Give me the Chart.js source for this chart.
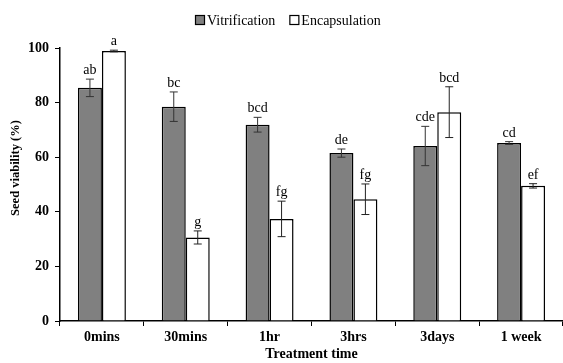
<!DOCTYPE html>
<html>
<head>
<meta charset="utf-8">
<script src="https://cdn.jsdelivr.net/npm/chart.js@4/dist/chart.umd.min.js"></script>
<style>
html,body{margin:0;padding:0;background:#fff;}
#wrap{width:563px;height:363px;}
</style>
</head>
<body>
<div id="wrap"><canvas id="c" width="563" height="363"></canvas></div>
<script>
const categories = ['0mins', '30mins', '1hr', '3hrs', '3days', '1 week'];
const vitrification = [85.4, 78.5, 71.9, 61.5, 64.1, 65.2];
const vitrificationErr = [3.2, 5.4, 2.7, 1.5, 7.2, 0.5];
const encapsulation = [98.9, 30.6, 37.4, 44.6, 76.5, 49.5];
const encapsulationErr = [0.3, 2.4, 6.5, 5.6, 9.3, 0.8];
const vitrificationLetters = ['ab', 'bc', 'bcd', 'de', 'cde', 'cd'];
const encapsulationLetters = ['a', 'g', 'fg', 'fg', 'bcd', 'ef'];
const yTicks = [0, 20, 40, 60, 80, 100];
const yTitle = 'Seed viability (%)';
const xTitle = 'Treatment time';

const SERIF = '"Liberation Serif", "Times New Roman", serif';

const errorBarPlugin = {
  id: 'errorBars',
  afterDatasetsDraw(chart) {
    const ctx = chart.ctx;
    const y = chart.scales.y;
    chart.data.datasets.forEach((ds, di) => {
      const meta = chart.getDatasetMeta(di);
      meta.data.forEach((bar, i) => {
        const v = ds.data[i];
        const e = ds.errors[i];
        const x = bar.x;
        const yTop = y.getPixelForValue(v + e);
        const yBot = y.getPixelForValue(v - e);
        ctx.save();
        ctx.strokeStyle = ds.errorColor;
        ctx.lineWidth = 1;
        ctx.beginPath();
        ctx.moveTo(x, yTop); ctx.lineTo(x, yBot);
        ctx.moveTo(x - 4, yTop); ctx.lineTo(x + 4, yTop);
        ctx.moveTo(x - 4, yBot); ctx.lineTo(x + 4, yBot);
        ctx.stroke();
        ctx.fillStyle = '#000';
        ctx.font = '14px ' + SERIF;
        ctx.textAlign = 'center';
        ctx.textBaseline = 'alphabetic';
        ctx.fillText(ds.letters[i], x, yTop - 5);
        ctx.restore();
      });
    });
  }
};

const legendPlugin = {
  id: 'customLegend',
  afterDraw(chart) {
    const ctx = chart.ctx;
    ctx.save();
    ctx.font = '14px ' + SERIF;
    ctx.textBaseline = 'middle';
    ctx.textAlign = 'left';
    const box = 10, gap = 2, itemGap = 14;
    let x = 195;
    const yc = 20;
    chart.data.datasets.forEach(ds => {
      ctx.fillStyle = ds.backgroundColor;
      ctx.fillRect(x + 0.5, yc - box / 2 + 0.5, box - 1, box - 1);
      ctx.strokeStyle = '#000';
      ctx.lineWidth = 1.2;
      ctx.strokeRect(x + 0.5, yc - box / 2 + 0.5, box - 1, box - 1);
      ctx.fillStyle = '#000';
      const tx = x + box + gap;
      ctx.fillText(ds.label, tx, yc + 1);
      x = tx + ctx.measureText(ds.label).width + itemGap;
    });
    // y axis title
    ctx.save();
    ctx.translate(16, 168);
    ctx.rotate(-Math.PI / 2);
    ctx.font = 'bold 12.5px ' + SERIF;
    ctx.textAlign = 'center';
    ctx.textBaseline = 'middle';
    ctx.fillText(yTitle, 0, 0);
    ctx.restore();
    ctx.restore();
  }
};

new Chart(document.getElementById('c'), {
  type: 'bar',
  data: {
    labels: categories,
    datasets: [
      {
        label: 'Vitrification',
        data: vitrification,
        errors: vitrificationErr,
        letters: vitrificationLetters,
        errorColor: '#333',
        backgroundColor: '#808080',
        borderColor: '#000',
        borderWidth: 1.5,
        categoryPercentage: 0.572,
        barPercentage: 1.0
      },
      {
        label: 'Encapsulation',
        data: encapsulation,
        errors: encapsulationErr,
        letters: encapsulationLetters,
        errorColor: '#222',
        backgroundColor: '#ffffff',
        borderColor: '#000',
        borderWidth: 1.5,
        categoryPercentage: 0.572,
        barPercentage: 1.0
      }
    ]
  },
  options: {
    responsive: false,
    animation: false,
    devicePixelRatio: 1,
    layout: { padding: { top: 48, right: 0, left: 0, bottom: 0 } },
    plugins: {
      legend: { display: false },
      tooltip: { enabled: false }
    },
    scales: {
      x: {
        grid: { offset: true, drawOnChartArea: false, tickLength: 5, color: '#000', lineWidth: 1 },
        border: { color: '#000', width: 1.5 },
        ticks: { color: '#000', font: { family: SERIF, size: 14, weight: 'bold' }, padding: 3, maxRotation: 0 },
        title: { display: true, text: xTitle, color: '#000', font: { family: SERIF, size: 14, weight: 'bold' }, padding: { top: 0, bottom: 0 } },
        afterFit(scale) { scale.height = 42; }
      },
      y: {
        min: 0,
        max: 100,
        afterBuildTicks(scale) { scale.ticks = yTicks.map(v => ({ value: v })); },
        grid: { drawOnChartArea: false, tickLength: 5, color: '#000' },
        border: { color: '#000', width: 1.5 },
        ticks: { color: '#000', font: { family: SERIF, size: 14, weight: 'bold' }, padding: 6 },
        title: { display: false, text: yTitle },
        afterFit(scale) { scale.width = 60; }
      }
    }
  },
  plugins: [errorBarPlugin, legendPlugin]
});
</script>
</body>
</html>
